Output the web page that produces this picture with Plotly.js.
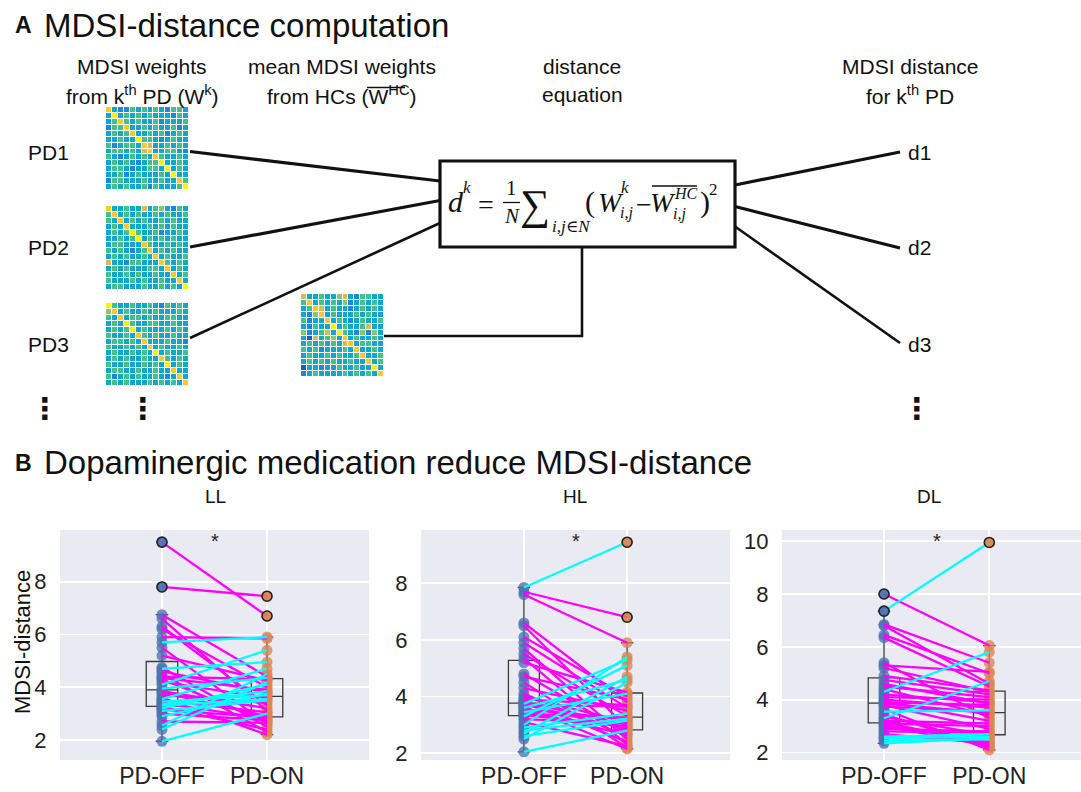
<!DOCTYPE html>
<html><head><meta charset="utf-8">
<script src="https://cdn.plot.ly/plotly-3.0.1.min.js"></script>
<style>html,body{margin:0;padding:0;background:#fff}#chart{width:1081px;height:792px}</style>
</head><body><div id="chart"></div>
<script>
// ---------------- data ----------------
const categories = ['PD-OFF', 'PD-ON'];
const panelTitles = ['LL', 'HL', 'DL'];

const ll_off = [9.5, 7.8, 6.75, 6.6, 6.3, 6.2, 5.9, 5.7, 5.5, 5.2, 4.75, 4.7, 4.6, 4.5, 4.4, 4.35, 4.3, 4.2, 4.1, 3.95, 3.85, 3.8, 3.7, 3.6, 3.55, 3.5, 3.45, 3.4, 3.35, 3.3, 3.25, 3.2, 3.15, 3.1, 3.0, 2.9, 2.7, 2.55, 2.4, 1.95];
const ll_on  = [6.7, 7.45, 4.4, 3.1, 3.3, 4.0, 5.85, 5.9, 2.6, 4.25, 2.5, 4.95, 3.8, 2.3, 4.3, 3.9, 2.7, 3.6, 5.4, 4.35, 3.2, 2.9, 3.4, 2.2, 4.7, 3.05, 3.7, 2.8, 3.85, 3.55, 2.4, 4.1, 2.85, 3.5, 2.75, 3.75, 2.65, 4.5, 4.2, 3.0];

const hl_off = [7.85, 7.7, 7.6, 6.6, 6.5, 6.1, 5.9, 5.7, 5.5, 5.35, 5.2, 4.8, 4.7, 4.5, 4.3, 4.1, 4.0, 3.9, 3.85, 3.8, 3.74, 3.72, 3.7, 3.65, 3.6, 3.55, 3.5, 3.45, 3.4, 3.35, 3.3, 3.2, 3.1, 3.0, 2.9, 2.8, 2.7, 2.6, 2.5, 2.05];
const hl_on  = [9.45, 6.8, 5.9, 3.8, 2.9, 4.0, 3.6, 2.5, 3.3, 2.3, 4.15, 2.7, 3.9, 2.2, 3.5, 2.6, 3.1, 3.7, 2.4, 3.0, 5.3, 2.85, 3.65, 2.15, 4.6, 3.2, 2.65, 4.1, 3.25, 2.95, 5.1, 3.05, 2.25, 5.4, 3.4, 3.22, 4.7, 3.15, 4.5, 2.8];

const dl_off = [8.0, 7.35, 6.85, 6.8, 6.45, 6.35, 5.4, 5.3, 5.2, 4.9, 4.75, 4.6, 4.5, 4.4, 4.3, 4.2, 4.1, 4.0, 3.95, 3.9, 3.85, 3.8, 3.75, 3.65, 3.55, 3.45, 3.35, 3.3, 3.2, 3.15, 3.1, 3.05, 3.0, 2.9, 2.8, 2.7, 2.6, 2.55, 2.45, 2.35];
const dl_on  = [6.05, 9.95, 5.4, 4.6, 5.0, 4.5, 3.3, 5.05, 4.3, 4.35, 4.2, 3.85, 4.1, 3.4, 5.8, 3.9, 4.0, 3.7, 3.2, 3.8, 3.5, 2.9, 3.52, 2.1, 3.6, 2.2, 2.65, 4.7, 3.1, 2.3, 3.0, 2.4, 2.25, 2.8, 2.75, 2.35, 2.7, 2.6, 2.5, 2.55];

// MDSI weight matrices (colour level 0..8 per cell, parula-like colormap)
const pd1_rows = [
 "73224343432443","38343434333243","34743433423334","24473343433423",
 "34347334342343","33433844323433","42344376334343","34434367334432",
 "43234343743343","34343234483343","34432334438343","33423433343833",
 "24433343343374","34343342433348"];
const pd2_rows = [
 "73343363453243","47343433434334","43734343343433","34373334343433",
 "34348433423343","33434834343433","34433374334343","43432347343433",
 "34343343734334","63324433374343","34343334437343","43343433433734",
 "43334343343373","34433343343438"];
const pd3_rows = [
 "84334334324343","57343343433343","43734434334433","34384334433433",
 "34348343334343","43343743433433","34434373334332","43343437343343",
 "34334343834334","34343343374343","43343343438343","34433433433733",
 "42343433432373","34343334343437"];
const hc_rows = [
 "63343356324433","47343435234343","34763433234343","32573433343433",
 "42337343234334","32433834334633","52346384325253","31634537343343",
 "34343436734433","43423334373343","34334343347334","34343433433734",
 "13323343343383","23433334343437"];

// ---------------- helpers ----------------
const W = 1081, H = 792;
const px = x => x / W;
const py = y => 1 - y / H;
const FONT = '"Liberation Sans", Arial, sans-serif';
const SERIF = '"Liberation Serif", "DejaVu Serif", serif';
const toZ = rows => rows.map(r => r.split('').map(Number));

function ann(text, x, y, size, opt) {
  opt = opt || {};
  return Object.assign({
    text: text, x: px(x), y: py(y), xref: 'paper', yref: 'paper',
    showarrow: false, xanchor: opt.anchor || 'center', yanchor: 'middle',
    font: {size: size, family: opt.family || FONT, color: opt.color || '#111'}
  }, opt.extra || {});
}
function seg(x0, y0, x1, y1, w) {
  return {type: 'line', xref: 'paper', yref: 'paper',
    x0: px(x0), y0: py(y0), x1: px(x1), y1: py(y1),
    line: {color: '#111', width: w}};
}
function quant(s, p) {
  const h = (s.length - 1) * p, lo = Math.floor(h);
  const hi = Math.min(lo + 1, s.length - 1);
  return s[lo] + (h - lo) * (s[hi] - s[lo]);
}
function outliers(vals) {
  const s = vals.slice().sort((a, b) => a - b);
  const q1 = quant(s, 0.25), q3 = quant(s, 0.75), iqr = q3 - q1;
  return vals.filter(v => v < q1 - 1.5 * iqr || v > q3 + 1.5 * iqr);
}

const parula = [[0,'#352a87'],[0.125,'#0f5cdd'],[0.25,'#1e86de'],[0.375,'#0ea8cc'],
  [0.5,'#44c08e'],[0.625,'#8cc470'],[0.75,'#d6bc54'],[0.875,'#fcc832'],[1,'#f9f20e']];

// ---------------- traces ----------------
const traces = [];
const shapes = [];
const annotations = [];
const layout = {
  width: W, height: H, margin: {l: 0, r: 0, t: 0, b: 0},
  paper_bgcolor: '#fff', plot_bgcolor: 'rgba(0,0,0,0)',
  showlegend: false, hovermode: false
};

const panels = [
  {off: ll_off, on: ll_on, xd: [60, 369], yr: [1.24, 9.96], xr: [-0.971, 1.971], cx: 215},
  {off: hl_off, on: hl_on, xd: [421, 730], yr: [1.76, 9.88], xr: [-0.997, 1.997], cx: 575},
  {off: dl_off, on: dl_on, xd: [782, 1081], yr: [1.72, 10.42], xr: [-0.969, 1.871], cx: 929}
];
const plotTop = 530, plotBot = 760;

panels.forEach((p, k) => {
  const n = k + 1;
  const xa = 'x' + (n === 1 ? '' : n), ya = 'y' + (n === 1 ? '' : n);
  const xkey = 'xaxis' + (n === 1 ? '' : n), ykey = 'yaxis' + (n === 1 ? '' : n);
  layout[xkey] = {
    domain: [px(p.xd[0]), Math.min(1, px(p.xd[1]))], range: p.xr, anchor: ya,
    tickvals: [0, 1], ticktext: categories, showgrid: true, gridcolor: '#ffffff', gridwidth: 1.6,
    zeroline: false, showline: false, ticks: '',
    tickfont: {size: 23, family: FONT, color: '#222'}, fixedrange: true
  };
  layout[ykey] = {
    domain: [py(plotBot), py(plotTop)], range: p.yr, anchor: xa, dtick: 2, tick0: 0,
    showgrid: true, gridcolor: '#ffffff', gridwidth: 1.6, zeroline: false, showline: false,
    ticks: 'outside', ticklen: 8, tickcolor: 'rgba(0,0,0,0)',
    tickfont: {size: 22, family: FONT, color: '#222'}, fixedrange: true
  };
  shapes.push({type: 'rect', xref: xa + ' domain', yref: ya + ' domain', x0: 0, x1: 1, y0: 0, y1: 1,
    fillcolor: '#eaeaf2', line: {width: 0}, layer: 'below'});

  [p.off, p.on].forEach((vals, g) => {
    traces.push({type: 'box', y: vals, x0: g, width: 0.3, xaxis: xa, yaxis: ya,
      boxpoints: 'outliers', marker: {opacity: 0, size: 1}, pointpos: 0, jitter: 0,
      line: {color: '#3a3a3a', width: 1.3}, fillcolor: 'rgba(0,0,0,0)', whiskerwidth: 0.4,
      hoverinfo: 'skip'});
  });
  const colors = ['rgba(76,114,176,0.78)', 'rgba(221,132,82,0.8)'];
  [p.off, p.on].forEach((vals, g) => {
    traces.push({type: 'scatter', mode: 'markers', x: vals.map(() => g), y: vals,
      xaxis: xa, yaxis: ya, marker: {size: 11, color: colors[g]}, hoverinfo: 'skip'});
  });
  const mx = [], my = [], cx = [], cy = [];
  p.off.forEach((v, i) => {
    const w = p.on[i];
    if (w < v) { mx.push(0, 1, null); my.push(v, w, null); }
    else { cx.push(0, 1, null); cy.push(v, w, null); }
  });
  traces.push({type: 'scatter', mode: 'lines', x: mx, y: my, xaxis: xa, yaxis: ya,
    line: {color: '#ff00ff', width: 2.3}, hoverinfo: 'skip'});
  traces.push({type: 'scatter', mode: 'lines', x: cx, y: cy, xaxis: xa, yaxis: ya,
    line: {color: '#00ffff', width: 2.3}, hoverinfo: 'skip'});
  [p.off, p.on].forEach((vals, g) => {
    const o = outliers(vals);
    traces.push({type: 'scatter', mode: 'markers', x: o.map(() => g), y: o, xaxis: xa, yaxis: ya,
      marker: {size: 10, color: colors[g], line: {color: '#222', width: 1.6}}, hoverinfo: 'skip'});
  });

  annotations.push(ann(panelTitles[k], p.cx, 497, 19));
  annotations.push({text: '*', x: 0.5, xref: xa, y: py(541), yref: 'paper', showarrow: false,
    xanchor: 'center', yanchor: 'middle', font: {size: 20, family: FONT, color: '#222'}});
});

// heatmaps (panel A)
const mats = [
  {rows: pd1_rows, x: [106, 189], y: [107, 190]},
  {rows: pd2_rows, x: [106, 189], y: [206, 290]},
  {rows: pd3_rows, x: [106, 189], y: [303, 386]},
  {rows: hc_rows,  x: [301, 384], y: [294, 377]}
];
mats.forEach((m, k) => {
  const n = k + 4;
  layout['xaxis' + n] = {domain: [px(m.x[0]), px(m.x[1])], anchor: 'y' + n, visible: false, fixedrange: true};
  layout['yaxis' + n] = {domain: [py(m.y[1]), py(m.y[0])], anchor: 'x' + n, visible: false,
    autorange: 'reversed', fixedrange: true};
  traces.push({type: 'heatmap', z: toZ(m.rows), colorscale: parula, zmin: 0, zmax: 8,
    showscale: false, xgap: 1, ygap: 1, xaxis: 'x' + n, yaxis: 'y' + n, hoverinfo: 'skip'});
});

// panel A diagram
shapes.push(seg(190, 151.5, 440, 181, 3.2));
shapes.push(seg(190, 247, 440, 200.5, 3.2));
shapes.push(seg(190, 338, 440, 223, 2.6));
shapes.push(seg(735, 185, 900, 152, 3.2));
shapes.push(seg(735, 206.5, 900, 248, 3.2));
shapes.push(seg(735, 226.5, 900, 343, 2.6));
shapes.push({type: 'path', xref: 'paper', yref: 'paper',
  path: 'M' + px(384) + ',' + py(336) + ' L' + px(582) + ',' + py(336) + ' L' + px(582) + ',' + py(247),
  line: {color: '#111', width: 2.6}});
shapes.push({type: 'rect', xref: 'paper', yref: 'paper', x0: px(440), x1: px(735), y0: py(247), y1: py(161),
  line: {color: '#111', width: 3.2}, fillcolor: '#fff'});
// fraction bar and overlines
shapes.push(seg(503, 202.5, 520, 202.5, 1.3));
shapes.push(seg(652, 186, 697, 186, 1.3));
shapes.push(seg(367, 87.5, 405, 87.5, 1.3));

annotations.push(ann('<b>A</b>', 13, 25, 23, {anchor: 'left'}));
annotations.push(ann('MDSI-distance computation', 42, 25, 33, {anchor: 'left'}));
annotations.push(ann('MDSI weights', 142, 67, 21));
annotations.push(ann('from k<sup>th</sup> PD (W<sup>k</sup>)', 142, 95, 21));
annotations.push(ann('mean MDSI weights', 342, 67, 21));
annotations.push(ann('from HCs (W<sup>HC</sup>)', 342, 95, 21));
annotations.push(ann('distance', 582, 67, 21));
annotations.push(ann('equation', 582, 95, 21));
annotations.push(ann('MDSI distance', 910, 67, 21));
annotations.push(ann('for k<sup>th</sup> PD', 910, 95, 21));
['PD1', 'PD2', 'PD3'].forEach((t, i) => annotations.push(ann(t, 26, [153, 247, 345][i], 21, {anchor: 'left'})));
['d1', 'd2', 'd3'].forEach((t, i) => annotations.push(ann(t, 906, [153, 247, 345][i], 21, {anchor: 'left'})));
[45, 143, 917].forEach(x => annotations.push(ann('<b>⋮</b>', x, 408, 30, {family: '"DejaVu Sans", sans-serif'})));

// equation pieces
const eq = [
  ['<i>d</i>', 456, 202, 30], ['<i>k</i>', 467, 187, 17], ['=', 486, 204, 28],
  ['1', 511.5, 188, 21], ['<i>N</i>', 511.5, 216, 21], ['∑', 535, 205, 42],
  ['<i>i,j</i>∈<i>N</i>', 571, 226, 17], ['(', 590, 202, 30], ['<i>W</i>', 611, 203, 28],
  ['<i>k</i>', 625, 188, 17], ['<i>i,j</i>', 626, 213, 16], ['−', 644, 204, 28],
  ['<i>W</i>', 663, 203, 28], ['<i>HC</i>', 686, 194, 16], ['<i>i,j</i>', 679, 214, 16],
  [')', 705, 202, 30], ['2', 713, 190, 17]
];
eq.forEach(e => annotations.push(ann(e[0], e[1], e[2], e[3], {family: SERIF})));

annotations.push(ann('<b>B</b>', 13, 463, 23, {anchor: 'left'}));
annotations.push(ann('Dopaminergic medication reduce MDSI-distance', 42, 463, 33, {anchor: 'left'}));
annotations.push(ann('MDSI-distance', 22, 642, 22, {extra: {textangle: -90}}));

layout.shapes = shapes;
layout.annotations = annotations;

Plotly.newPlot('chart', traces, layout, {displayModeBar: false, staticPlot: true});
</script>
</body></html>
